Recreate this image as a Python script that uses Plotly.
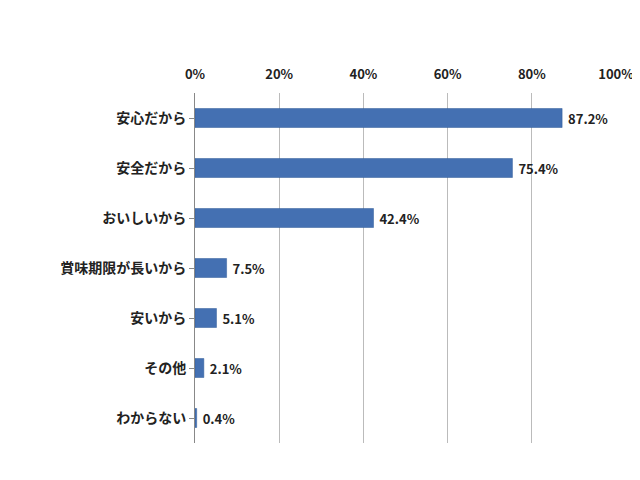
import plotly.graph_objects as go

# 理由（回答率）
categories = ["安心だから", "安全だから", "おいしいから", "賞味期限が長いから", "安いから", "その他", "わからない"]
values = [87.2, 75.4, 42.4, 7.5, 5.1, 2.1, 0.4]
labels = [f" {v:.1f}%" for v in values]

fig = go.Figure(go.Bar(
    x=values, y=categories, orientation="h",
    marker=dict(color="#4470B2", line=dict(color="#2F5A99", width=0.5)),
    width=0.38,
    text=labels, textposition="outside", cliponaxis=False,
    textfont=dict(size=13, color="#222", family="Noto Sans CJK JP", weight="bold"),
))

fig.update_layout(
    width=640, height=480,
    margin=dict(l=187, r=32, t=85, b=45),
    paper_bgcolor="white", plot_bgcolor="white",
    showlegend=False,
    font=dict(family="Noto Sans CJK JP", size=13, color="#222"),
    xaxis=dict(range=[0, 100], side="top", dtick=20, ticksuffix="%",
               showgrid=True, gridcolor="#BBBBBB", zeroline=False,
               automargin=False, ticklen=8, ticks="outside", tickcolor="white",
               tickfont=dict(size=13, weight="bold")),
    yaxis=dict(autorange="reversed", showline=True, linecolor="#888",
               ticks="outside", ticklen=5, tickcolor="#888", automargin=False,
               tickfont=dict(size=14, weight="bold")),
)

fig.write_html("out.html")
